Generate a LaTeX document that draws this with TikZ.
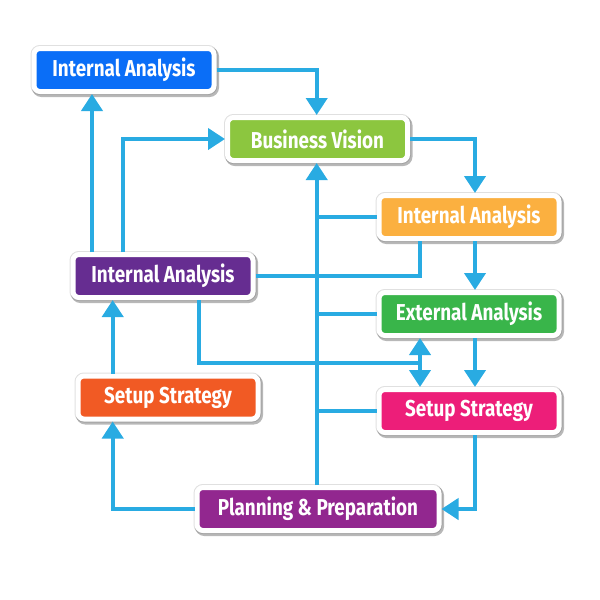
\documentclass[tikz,border=0pt]{standalone}
\usepackage{fontspec}
\newfontfamily\labfont[FakeStretch=0.82]{Fira Sans}
\usetikzlibrary{arrows.meta}
\definecolor{lineblue}{HTML}{29ABE2}
\definecolor{cblue}{HTML}{0A6EF7}
\definecolor{cgreenA}{HTML}{8CC63F}
\definecolor{corange}{HTML}{FBB040}
\definecolor{cpurpleA}{HTML}{662D91}
\definecolor{cgreenB}{HTML}{39B54A}
\definecolor{cred}{HTML}{F15A24}
\definecolor{cpink}{HTML}{ED1E79}
\definecolor{cpurpleB}{HTML}{92278F}
\tikzset{
  boxnode/.style={draw=white, line width=5pt, rounded corners=6pt,
    minimum width=180pt, minimum height=43pt, inner sep=0pt,
    text=white, font=\labfont\bfseries\fontsize{23}{23}\selectfont,
    preaction={draw=black, draw opacity=0.28, line width=7pt,
      transform canvas={shift={(1.5pt,-2pt)}}},
    preaction={draw=black, draw opacity=0.12, line width=7pt}},
  conn/.style={draw=lineblue, line width=4pt, -{Triangle[length=17pt,width=21pt]}},
  plain/.style={draw=lineblue, line width=4pt},
}
\begin{document}
\begin{tikzpicture}[x=1pt,y=-1pt]
\useasboundingbox (0,0) rectangle (600,600);
\node[boxnode, fill=cblue] (b1) at (124,70) {Internal Analysis};
\node[boxnode, fill=cgreenA] (bv) at (317.5,139) {Business Vision};
\node[boxnode, fill=corange] (oi) at (469,217) {Internal Analysis};
\node[boxnode, fill=cpurpleA] (pi) at (163,276) {Internal Analysis};
\node[boxnode, fill=cgreenB] (ea) at (469,314) {External Analysis};
\node[boxnode, fill=cred] (ls) at (168,397.5) {Setup Strategy};
\node[boxnode, fill=cpink] (ss) at (469,411) {Setup Strategy};
\node[boxnode, fill=cpurpleB, minimum width=242pt] (pl) at (318,509) {Planning \& Preparation};
\coordinate (rx) at (475,0);
\coordinate (mx) at (420,0);
\coordinate (lx) at (112.7,0);
\coordinate (lx2) at (92,0);
\coordinate (lx3) at (122.7,0);
\coordinate (dx) at (199.3,0);
\coordinate (tx) at (316.7,0);
\coordinate (my) at (0,362.7);
% top connections
\draw[conn] (b1.east) -| (tx |- bv.north);
\draw[conn] (bv.east) -| (rx |- oi.north);
\draw[conn] (lx2 |- pi.north) -- (lx2 |- b1.south);
\draw[conn] (lx3 |- pi.north) |- (bv.west);
% trunk
\draw[conn] (tx |- pl.north) -- (tx |- bv.south);
\draw[plain] (oi.west) -- (tx |- oi.west);
\draw[plain] (ea.west) -- (tx |- ea.west);
\draw[plain] (ss.west) -- (tx |- ss.west);
% purple IA to orange IA
\draw[plain] (pi.east) -| (mx |- oi.south);
% right column
\draw[conn] (rx |- oi.south) -- (rx |- ea.north);
\draw[conn] (rx |- ea.south) -- (rx |- ss.north);
\draw[conn] (rx |- ss.south) |- (pl.east);
% double arrow
\draw[plain] (dx |- pi.south) |- (mx |- my);
\draw[draw=lineblue, line width=4pt, {Triangle[length=17pt,width=21pt]}-{Triangle[length=17pt,width=21pt]}] (mx |- ea.south) -- (mx |- ss.north);
% left column
\draw[conn] (pl.west) -| (lx |- ls.south);
\draw[conn] (lx |- ls.north) -- (lx |- pi.south);
\end{tikzpicture}
\end{document}
